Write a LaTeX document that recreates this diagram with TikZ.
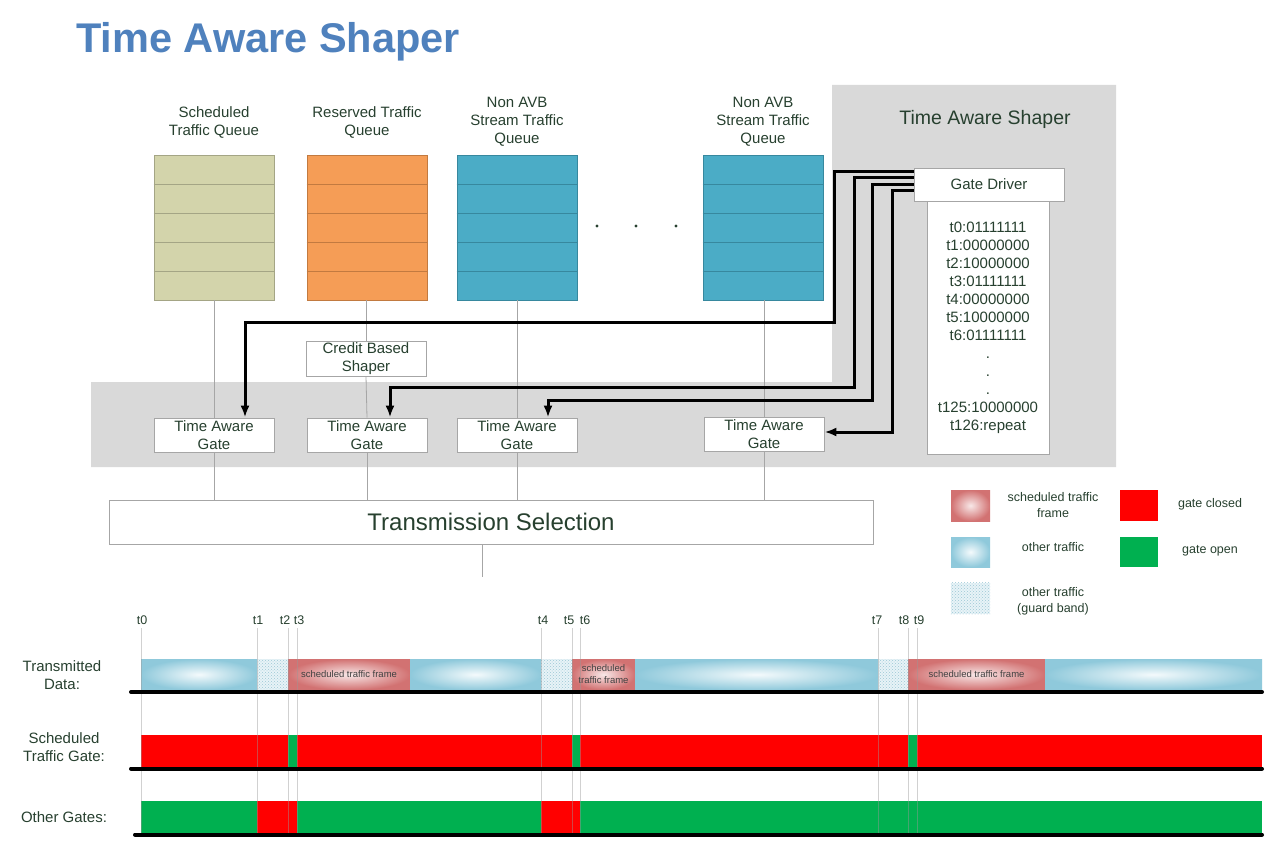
\documentclass[tikz,border=0pt]{standalone}
\usepackage{fontspec}
\setmainfont{Liberation Sans}
\usetikzlibrary{arrows.meta,patterns,calc}

\definecolor{txt}{HTML}{27402F}
\definecolor{ttl}{HTML}{4F81BD}
\definecolor{grayband}{HTML}{D9D9D9}
\definecolor{bord}{HTML}{A6A6A6}
\definecolor{qkhaki}{HTML}{D3D4AB}
\definecolor{qkhakiL}{HTML}{A4A585}
\definecolor{qorange}{HTML}{F59D56}
\definecolor{qorangeL}{HTML}{C27A40}
\definecolor{qblue}{HTML}{4BACC6}
\definecolor{qblueL}{HTML}{37889E}
\definecolor{gred}{HTML}{FF0000}
\definecolor{ggreen}{HTML}{00B050}
\definecolor{bluedge}{HTML}{8FC9DB}
\definecolor{bluein}{HTML}{F4FAFC}
\definecolor{pinkedge}{HTML}{D27272}
\definecolor{pinkin}{HTML}{F8E8E8}
\definecolor{guardfill}{HTML}{E8F3F7}
\definecolor{guarddot}{HTML}{9CC8D6}

\tikzset{
  lbl/.style={text=txt, font=\fontsize{15}{18}\selectfont, align=center, inner sep=0},
  small/.style={text=txt, font=\fontsize{12.5}{16}\selectfont, align=center, inner sep=0},
  wbox/.style={draw=bord, line width=0.8pt, fill=white, text=txt, font=\fontsize{15}{17.5}\selectfont, align=center, inner sep=0},
  queue/.style={minimum width=120pt, minimum height=145pt, line width=0.8pt, inner sep=0},
  conn/.style={draw=bord, line width=0.8pt},
  drive/.style={line width=3pt, line join=miter, -{Latex[length=12pt,width=9pt]}},
  bluseg/.style={shading=radial, inner color=bluein, outer color=bluedge},
  pinkseg/.style={shading=radial, inner color=pinkin, outer color=pinkedge},
  frametxt/.style={text=black!75, font=\fontsize{9.5}{12}\selectfont, align=center, inner sep=0},
  tlab/.style={text=txt, font=\fontsize{12.5}{14}\selectfont, inner sep=0},
  tline/.style={draw=black!40, line width=0.6pt, opacity=0.45},
  base/.style={line width=4pt, line cap=round}
}

\begin{document}
\begin{tikzpicture}[x=1pt,y=-1pt]
\useasboundingbox (0,0) rectangle (1268,866);

% gray background regions
\fill[grayband] (832,85) -- (1116,85) -- (1116,467) -- (91,467) -- (91,382) -- (832,382) -- cycle;

% title
\node[anchor=base west, text=ttl, font=\bfseries\fontsize{41.5}{48}\selectfont, inner sep=0] (title) at (76,53) {Time Aware Shaper};

% queue labels
\node[lbl] (l1) at (214,122) {Scheduled\\Traffic Queue};
\node[lbl] (l2) at (367,122) {Reserved Traffic\\Queue};
\node[lbl] (l3) at (517,122) {Non AVB\\Stream Traffic\\Queue};
\node[lbl] (l4) at (763,122) {Non AVB\\Stream Traffic\\Queue};

% queues
\node[queue, fill=qkhaki, draw=qkhakiL] (q1) at (214,227.5) {};
\node[queue, fill=qorange, draw=qorangeL] (q2) at (367,227.5) {};
\node[queue, fill=qblue, draw=qblueL] (q3) at (517,227.5) {};
\node[queue, fill=qblue, draw=qblueL] (q4) at (763,227.5) {};
\foreach \q/\c in {q1/qkhakiL,q2/qorangeL,q3/qblueL,q4/qblueL}{
  \foreach \yy in {184,213,242,271}
    \draw[\c, line width=0.8pt] (\q.west |- 0,\yy) -- (\q.east |- 0,\yy);
}
\foreach \xx in {597,636,676} \fill[txt] (\xx,226) circle (1.6);

% time aware shaper block
\node[lbl, font=\fontsize{19.5}{22}\selectfont] (tas) at (985,119) {Time Aware Shaper};
\node[wbox, minimum width=122, minimum height=253, font=\fontsize{15}{18}\selectfont] (sched) at (988,327.5)
  {t0:01111111\\t1:00000000\\t2:10000000\\t3:01111111\\t4:00000000\\t5:10000000\\t6:01111111\\.\\.\\.\\t125:10000000\\t126:repeat};
\node[wbox, minimum width=150, minimum height=33] (gd) at (989,184.5) {Gate Driver};

% credit based shaper and gates
\node[wbox, minimum width=120, minimum height=35] (cbs) at (366,358.5) {Credit Based\\Shaper};
\node[wbox, minimum width=120, minimum height=34] (g1) at (214,435) {Time Aware\\Gate};
\node[wbox, minimum width=120, minimum height=34] (g2) at (367,435) {Time Aware\\Gate};
\node[wbox, minimum width=120, minimum height=34] (g3) at (517,435) {Time Aware\\Gate};
\node[wbox, minimum width=120, minimum height=34] (g4) at (764,434) {Time Aware\\Gate};

% transmission selection
\node[wbox, minimum width=764, minimum height=44, font=\fontsize{24}{28}\selectfont] (ts) at (491,522) {Transmission Selection};
\coordinate (tsend) at (482,577);

% thin connectors
\draw[conn] (q1.south) -- (g1.north);
\draw[conn] (q2.south -| cbs.north) -- (cbs.north);
\draw[conn] (cbs.south) -- (g2.north);
\draw[conn] (q3.south) -- (g3.north);
\draw[conn] (q4.south -| g4.north) -- (g4.north);
\draw[conn] (g1.south) -- (g1.south |- ts.north);
\draw[conn] (g2.south) -- (g2.south |- ts.north);
\draw[conn] (g3.south) -- (g3.south |- ts.north);
\draw[conn] (g4.south) -- (g4.south |- ts.north);
\draw[conn] (ts.south -| tsend) -- (tsend);

% gate driver control lines
\draw[drive] (gd.west |- 0,172) -| (834,323) -| ([xshift=31pt]g1.north);
\draw[drive] (gd.west |- 0,178) -| (854,387) -| ([xshift=23pt]g2.north);
\draw[drive] (gd.west |- 0,185) -| (872,400) -| ([xshift=31pt]g3.north);
\draw[drive] (gd.west |- 0,191) -| (892,432) -- (g4.east |- 0,432);

% legend
\node[pinkseg, minimum width=39, minimum height=31, inner sep=0] (lg1) at (970.5,505.5) {};
\node[bluseg, minimum width=39, minimum height=30, inner sep=0] (lg2) at (970.5,552) {};
\node[fill=guardfill, minimum width=39, minimum height=31, inner sep=0] (lg3) at (970.5,598.5) {};
\fill[pattern=crosshatch dots, pattern color=guarddot] (lg3.south west) rectangle (lg3.north east);
\node[fill=gred, minimum width=38, minimum height=31, inner sep=0] (lg4) at (1139,505.5) {};
\node[fill=ggreen, minimum width=38, minimum height=30, inner sep=0] (lg5) at (1139,552) {};
\node[small] (lt1) at (1053,505) {scheduled traffic\\frame};
\node[small] (lt2) at (1053,547) {other traffic};
\node[small] (lt3) at (1053,601) {other traffic\\(guard band)};
\node[small] (lt4) at (1210,504) {gate closed};
\node[small] (lt5) at (1210,551) {gate open};

% row labels
\node[lbl] (rl1) at (62,675) {Transmitted\\Data:};
\node[lbl] (rl2) at (64,747) {Scheduled\\Traffic Gate:};
\node[lbl] (rl3) at (64,817) {Other Gates:};

% time labels
\foreach \xx/\tt in {142/t0,258/t1,285/t2,299/t3,543/t4,569/t5,585/t6,877/t7,904/t8,919/t9}
  \node[tlab] at (\xx,620) {\tt};

% transmitted data
\shade[bluseg] (141,659) rectangle (257,690);
\fill[guardfill] (257,659) rectangle (288,690);
\fill[pattern=crosshatch dots, pattern color=guarddot] (257,659) rectangle (288,690);
\shade[pinkseg] (288,659) rectangle (410,690);
\shade[bluseg] (410,659) rectangle (541,690);
\fill[guardfill] (541,659) rectangle (572,690);
\fill[pattern=crosshatch dots, pattern color=guarddot] (541,659) rectangle (572,690);
\shade[pinkseg] (572,659) rectangle (635,690);
\shade[bluseg] (635,659) rectangle (878,690);
\fill[guardfill] (878,659) rectangle (908,690);
\fill[pattern=crosshatch dots, pattern color=guarddot] (878,659) rectangle (908,690);
\shade[pinkseg] (908,659) rectangle (1045,690);
\shade[bluseg] (1045,659) rectangle (1262,690);
\node[frametxt] (f1) at (349,674) {scheduled traffic frame};
\node[frametxt] (f2) at (603.5,674) {scheduled\\traffic frame};
\node[frametxt] (f3) at (976.5,674) {scheduled traffic frame};

% scheduled traffic gate
\fill[gred] (141,735) rectangle (1262,767);
\fill[ggreen] (288,735) rectangle (297,767);
\fill[ggreen] (572,735) rectangle (580,767);
\fill[ggreen] (908,735) rectangle (917,767);

% other gates
\fill[ggreen] (141,801) rectangle (1262,833);
\fill[gred] (257,801) rectangle (297,833);
\fill[gred] (541,801) rectangle (580,833);

% time lines
\foreach \xx in {141,257,288,297,541,572,580,878,908,917}
  \draw[tline] (\xx,628) -- (\xx,836);

% baselines
\draw[base] (131,692) -- (1262,692);
\draw[base] (131,768.5) -- (1262,768.5);
\draw[base] (135,834.5) -- (1262,834.5);
\end{tikzpicture}
\end{document}
